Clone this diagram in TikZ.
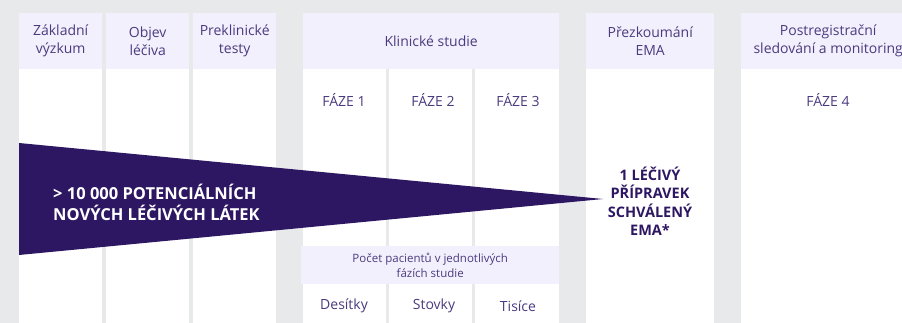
\documentclass[tikz,border=0pt]{standalone}
\usepackage{fontspec}
\setmainfont{Open Sans}
\usepackage{xcolor}
\usepackage{tikz}
\definecolor{bggray}{HTML}{E8E9EB}
\definecolor{headlila}{HTML}{F3F0FD}
\definecolor{textlila}{HTML}{4B3B7E}
\definecolor{darklila}{HTML}{2D1762}
\tikzset{
	colbox/.style={fill=white, anchor=north west, inner sep=0pt, minimum height=260pt},
	headbox/.style={fill=headlila, anchor=north west, inner sep=0pt, minimum height=56pt,
		text=textlila, align=center, font=\fontsize{14}{18}\selectfont},
	phasetext/.style={text=textlila, font=\fontsize{14}{18}\selectfont},
}
\begin{document}
\begin{tikzpicture}[x=1pt, y=-1pt]
		\useasboundingbox (0, 0) rectangle (902, 323);
		\clip (0, 0) rectangle (902, 323);
		\fill[bggray] (0, 0) rectangle (902, 323);
		% Columns
		%% Preclinical part
		\node[colbox, minimum width=83pt] (c1) at (19, 69) {};
		\node[colbox, minimum width=83pt] (c2) at (106, 69) {};
		\node[colbox, minimum width=83pt] (c3) at (193, 69) {};
		%% Clinical part
		\node[colbox, minimum width=83pt] (k1) at (303, 69) {};
		\node[colbox, minimum width=83pt] (k2) at (389, 69) {};
		\node[colbox, minimum width=84pt] (k3) at (475, 69) {};
		%% Approval and follow-up
		\node[colbox, minimum width=128pt] (ema) at (586, 69) {};
		\node[colbox, minimum width=180pt] (post) at (741, 69) {};
		% Headers
		\node[headbox, minimum width=83pt] (h1) at (19, 13) {Základní\\výzkum};
		\node[headbox, minimum width=83pt] (h2) at (106, 13) {Objev\\léčiva};
		\node[headbox, minimum width=83pt] (h3) at (193, 13) {Preklinické\\testy};
		\node[headbox, minimum width=256pt] (hk) at (303, 13) {Klinické studie};
		\node[headbox, minimum width=128pt] (hema) at (586, 13) {Přezkoumání\\EMA};
		\node[headbox, minimum width=174pt] (hpost) at (741, 13) {Postregistrační\\sledování a monitoring};
		% Phases
		\node[phasetext] (f1) at (344, 100) {FÁZE 1};
		\node[phasetext] (f2) at (433, 100) {FÁZE 2};
		\node[phasetext] (f3) at (518, 100) {FÁZE 3};
		\node[phasetext] (f4) at (828, 100) {FÁZE 4};
		% Patients
		\node[headbox, minimum width=258pt, minimum height=38pt,
			font=\fontsize{11.5}{15}\selectfont] (pac) at (301, 246)
			{Počet pacientů v jednotlivých\\fázích studie};
		\node[phasetext] (d1) at (344, 306) {Desítky};
		\node[phasetext] (d2) at (434, 306) {Stovky};
		\node[phasetext] (d3) at (518, 306) {Tisíce};
		% Funnel
		\coordinate (tA) at (19, 143);
		\coordinate (tB) at (19, 255);
		\coordinate (tip) at (603, 199);
		\fill[darklila] (tA) -- (tip) -- (tB) -- cycle;
		\node[text=white, anchor=west, align=left, inner sep=0pt,
			font=\fontsize{16.5}{21}\bfseries\selectfont] (many) at (53, 202)
			{> 10 000 POTENCIÁLNÍCH\\NOVÝCH LÉČIVÝCH LÁTEK};
		\node[text=darklila, align=center, inner sep=0pt,
			font=\fontsize{14.5}{18.5}\bfseries\selectfont] (one) at (650, 201)
			{1 LÉČIVÝ\\PŘÍPRAVEK\\SCHVÁLENÝ\\EMA*};
	\end{tikzpicture}
\end{document}
